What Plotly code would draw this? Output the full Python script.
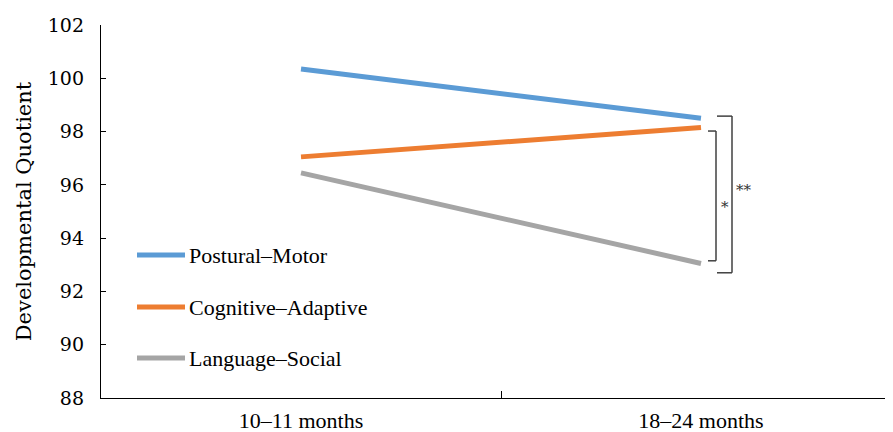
import plotly.graph_objects as go

categories = ["10–11 months", "18–24 months"]
series_names = ["Postural–Motor", "Cognitive–Adaptive", "Language–Social"]
postural_motor = [100.35, 98.5]
cognitive_adaptive = [97.05, 98.15]
language_social = [96.45, 93.05]
colors = ["#5B9BD5", "#ED7D31", "#A5A5A5"]
y_ticks = [88, 90, 92, 94, 96, 98, 100, 102]

SERIF = "Liberation Serif"
WIDE = "DejaVu Serif"
OFF = 8  # page body margin
W, H = 893 - OFF, 432 - OFF
L, R, T = 101 - OFF, 0, 25 - OFF
B = H - (398 - OFF)
PW = W - L - R
PH = H - T - B

fig = go.Figure()
for i, (name, vals) in enumerate(zip(series_names, [postural_motor, cognitive_adaptive, language_social])):
    fig.add_trace(go.Scatter(
        x=categories, y=vals, mode="lines", name=name,
        line=dict(color=colors[i], width=5), showlegend=False,
    ))

# manual legend (paper coordinates, page pixel targets)
legend_y_px = [255, 307, 358]
for i, name in enumerate(series_names):
    yp = 1 - (legend_y_px[i] - OFF - T) / PH
    fig.add_shape(type="line", xref="paper", yref="paper",
                  x0=(137 - OFF - L) / PW, x1=(185 - OFF - L) / PW, y0=yp, y1=yp,
                  line=dict(color=colors[i], width=5))
    fig.add_annotation(xref="paper", yref="paper", x=(187 - OFF - L) / PW, y=yp,
                       text=name, showarrow=False, xanchor="left", yanchor="middle",
                       font=dict(family=SERIF, size=22, color="black"))

# significance brackets (derived from data)
end_pm = postural_motor[1]
end_ca = cognitive_adaptive[1]
end_ls = language_social[1]
bc = "#404040"
ix0, ix1 = 1.0175, 1.0375
itop, ibot = end_ca - 0.13, end_ls + 0.1
for seg in [(ix0, itop, ix1, itop), (ix1, itop, ix1, ibot), (ix0, ibot, ix1, ibot)]:
    fig.add_shape(type="line", x0=seg[0], y0=seg[1], x1=seg[2], y1=seg[3],
                  xref="x", yref="y", line=dict(color=bc, width=1.5))
ox0, ox1 = 1.04, 1.0775
otop, obot = end_pm + 0.08, end_ls - 0.35
for seg in [(ox0, otop, ox1, otop), (ox1, otop, ox1, obot), (ox0, obot, ox1, obot)]:
    fig.add_shape(type="line", x0=seg[0], y0=seg[1], x1=seg[2], y1=seg[3],
                  xref="x", yref="y", line=dict(color=bc, width=1.5))
fig.add_annotation(x=1.06, y=(itop + ibot) / 2 - 0.4, text="*", showarrow=False,
                   xref="x", yref="y", font=dict(family=WIDE, size=15, color="#333"))
fig.add_annotation(x=1.108, y=(otop + obot) / 2 + 0.15, text="**", showarrow=False,
                   xref="x", yref="y", font=dict(family=WIDE, size=15, color="#333"))

fig.update_layout(
    width=W, height=H,
    margin=dict(l=L, r=R, t=T, b=B),
    plot_bgcolor="white", paper_bgcolor="white",
    font=dict(family=SERIF, size=22, color="black"),
    showlegend=False,
    xaxis=dict(
        type="category", range=[-0.5, 1.48],
        tickson="boundaries", ticks="inside", ticklen=7, tickcolor="black", tickwidth=1.3,
        showline=True, linecolor="black", linewidth=1.3, showgrid=False,
        zeroline=False, ticklabelstandoff=2, automargin=False,
        tickfont=dict(family=SERIF, size=22),
    ),
    yaxis=dict(
        range=[88, 102], tickmode="array", tickvals=y_ticks,
        ticks="inside", ticklen=5, tickcolor="black", tickwidth=1.3,
        showline=True, linecolor="black", linewidth=1.3, showgrid=False,
        zeroline=False, ticklabelstandoff=12, automargin=False,
        title=dict(text="Developmental Quotient", font=dict(family=WIDE, size=21), standoff=10),
        tickfont=dict(family=WIDE, size=19),
    ),
)
fig.write_html("out.html")
